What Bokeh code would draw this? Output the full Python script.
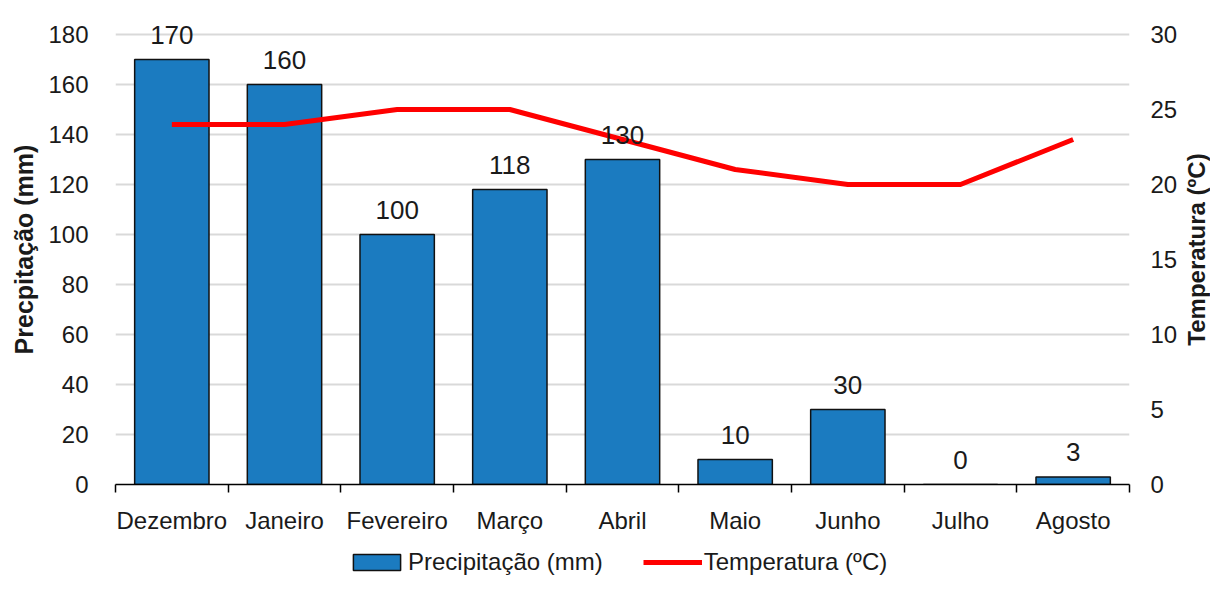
from bokeh.plotting import figure
from bokeh.layouts import column, row
from bokeh.models import (ColumnDataSource, Range1d, LinearAxis, FixedTicker,
                          Legend, LegendItem, LabelSet, Title)
from bokeh.core.properties import value
from bokeh.embed import file_html
from bokeh.resources import INLINE

months = ["Dezembro", "Janeiro", "Fevereiro", "Março", "Abril", "Maio", "Junho", "Julho", "Agosto"]
precip = [170, 160, 100, 118, 130, 10, 30, 0, 3]
temp = [24, 24, 25, 25, 23, 21, 20, 20, 23]
left_ticks = [0, 20, 40, 60, 80, 100, 120, 140, 160, 180]
right_ticks = [0, 5, 10, 15, 20, 25, 30]

FONT = "Liberation Sans"
TXT = "#1a1a1a"
BAR_COLOR = "#1b7bc0"
LINE_COLOR = "#ff0000"
xc = [i + 0.5 for i in range(len(months))]
src = ColumnDataSource(dict(x=xc, p=precip, t=temp, lab=[str(v) for v in precip]))

TOP, BOTTOM = 14, 58
# headroom above 180 so the top data label is not clipped
Y_START, Y_END = 0, 188
p = figure(width=1180, height=542, x_range=Range1d(0, len(months)),
           y_range=Range1d(Y_START, Y_END),
           output_backend="svg", toolbar_location=None,
           min_border_left=115, min_border_right=48, min_border_top=TOP, min_border_bottom=BOTTOM)
p.outline_line_color = None
p.extra_y_ranges = {"temp": Range1d(Y_START / 6.0, Y_END / 6.0)}

bars = p.vbar(x="x", top="p", width=0.66, bottom=0, source=src,
              fill_color=BAR_COLOR, line_color="#111111", line_width=1.5)
line = p.line(x="x", y="t", source=src, y_range_name="temp",
              line_color=LINE_COLOR, line_width=5)

labels = LabelSet(x="x", y="p", text="lab", source=src, text_align="center",
                  text_baseline="alphabetic", y_offset=16,
                  text_font=value(FONT), text_font_size="26px", text_color=TXT)
p.add_layout(labels)

# x axis
xa = p.xaxis[0]
xa.ticker = FixedTicker(ticks=xc, minor_ticks=list(range(len(months) + 1)))
xa.major_label_overrides = {x: m for x, m in zip(xc, months)}
xa.major_tick_out = 0
xa.major_tick_in = 0
xa.minor_tick_out = 8
xa.minor_tick_in = 0
xa.minor_tick_line_color = "black"
xa.minor_tick_line_width = 1.5
xa.axis_line_color = "black"
xa.axis_line_width = 1.5
xa.major_label_standoff = 14
xa.major_label_text_font = FONT
xa.major_label_text_font_size = "24px"
xa.major_label_text_color = TXT

# left axis
ya = p.yaxis[0]
ya.ticker = FixedTicker(ticks=left_ticks)
ya.axis_line_color = None
ya.major_tick_out = 0
ya.major_tick_in = 0
ya.minor_tick_out = 0
ya.minor_tick_in = 0
ya.major_label_standoff = 27
ya.major_label_text_font = FONT
ya.major_label_text_font_size = "24px"
ya.major_label_text_color = TXT
ya.axis_label = "Precpitação (mm)"
ya.axis_label_text_font = FONT
ya.axis_label_text_font_style = "bold"
ya.axis_label_text_font_size = "25px"
ya.axis_label_text_color = TXT
ya.axis_label_standoff = 7

# right axis (its title sits in a narrow strip to the right, reading upwards)
ra = LinearAxis(y_range_name="temp", ticker=FixedTicker(ticks=right_ticks))
ra.axis_line_color = None
ra.major_tick_out = 0
ra.major_tick_in = 0
ra.minor_tick_out = 0
ra.minor_tick_in = 0
ra.major_label_standoff = 21
ra.major_label_text_font = FONT
ra.major_label_text_font_size = "24px"
ra.major_label_text_color = TXT
p.add_layout(ra, "right")

p.xgrid.grid_line_color = None
p.ygrid.ticker = FixedTicker(ticks=left_ticks)
p.ygrid.grid_line_color = "#d9d9d9"
p.ygrid.grid_line_width = 2

tf = figure(width=30, height=542, x_range=Range1d(0, 1), y_range=Range1d(0, 1), title=None,
            output_backend="svg", toolbar_location=None, x_axis_location=None, y_axis_location=None,
            min_border_left=0, min_border_right=0, min_border_top=TOP, min_border_bottom=BOTTOM)
tf.outline_line_color = None
tf.grid.visible = False
tf.add_layout(Title(text="Temperatura (ºC)", align="center", standoff=0, offset=0,
                    text_font=FONT, text_font_size="24px", text_font_style="bold",
                    text_color=TXT), "left")

# legend strip under the chart (legend glyphs taken from hidden copies of the series)
lf = figure(width=1210, height=34, x_range=Range1d(0, len(months)), y_range=Range1d(Y_START, Y_END),
            output_backend="svg", toolbar_location=None, x_axis_location=None, y_axis_location=None,
            min_border=0, min_border_left=115, min_border_right=0, min_border_top=0, min_border_bottom=0)
lf.outline_line_color = None
lf.grid.visible = False
lbars = lf.vbar(x="x", top="p", width=0.66, bottom=0, source=src, visible=False,
                fill_color=BAR_COLOR, line_color="#111111", line_width=1.5)
lline = lf.line(x="x", y="t", source=src, visible=False, line_color=LINE_COLOR, line_width=5)

legend = Legend(items=[LegendItem(label="Precipitação (mm)", renderers=[lbars]),
                       LegendItem(label="Temperatura (ºC)", renderers=[lline])],
                orientation="horizontal", location=(232, 0),
                glyph_width=59, glyph_height=20, label_standoff=2, spacing=40,
                padding=0, margin=0, border_line_color=None, background_fill_alpha=0,
                inactive_fill_alpha=0,
                label_text_font=FONT, label_text_font_size="24px", label_text_color=TXT)
lf.add_layout(legend, "center")

layout = column(row(p, tf, spacing=0), lf, spacing=0)
open("out.html", "w").write(file_html(layout, INLINE))
